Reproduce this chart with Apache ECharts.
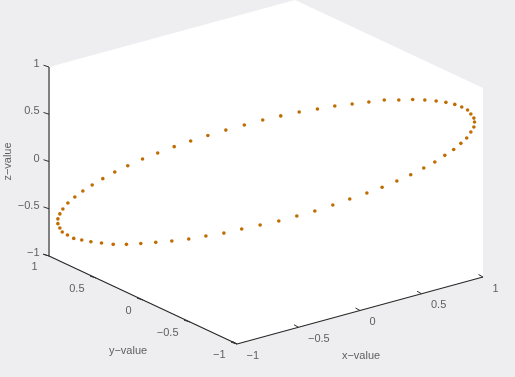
<!DOCTYPE html>
<html>
<head>
<meta charset="utf-8">
<title>3D scatter</title>
<script src="https://cdn.jsdelivr.net/npm/echarts@6/dist/echarts.min.js"></script>
<style>
  html, body { margin: 0; padding: 0; background: #eeedef; }
  #chart { width: 515px; height: 377px; }
</style>
</head>
<body>
<div id="chart"></div>
<script>
// values
var xValues = [0.961,0.958,0.944,0.929,0.902,0.870,0.829,0.784,0.732,0.676,0.612,0.545,0.474,0.397,0.317,0.237,0.153,0.068,-0.015,-0.100,-0.185,-0.268,-0.347,-0.423,-0.499,-0.569,-0.637,-0.697,-0.752,-0.801,-0.844,-0.881,-0.913,-0.936,-0.950,-0.959,-0.959,-0.950,-0.939,-0.915,-0.886,-0.849,-0.807,-0.758,-0.704,-0.643,-0.577,-0.508,-0.434,-0.356,-0.277,-0.194,-0.112,-0.027,0.059,0.142,0.225,0.308,0.386,0.465,0.535,0.603,0.667,0.727,0.778,0.824,0.865,0.898,0.925,0.944,0.958];
var yValues = [-0.961,-0.958,-0.944,-0.929,-0.902,-0.870,-0.829,-0.784,-0.732,-0.676,-0.612,-0.545,-0.474,-0.397,-0.317,-0.237,-0.153,-0.068,0.015,0.100,0.185,0.268,0.347,0.423,0.499,0.569,0.637,0.697,0.752,0.801,0.844,0.881,0.913,0.936,0.950,0.959,0.959,0.950,0.939,0.915,0.886,0.849,0.807,0.758,0.704,0.643,0.577,0.508,0.434,0.356,0.277,0.194,0.112,0.027,-0.059,-0.142,-0.225,-0.308,-0.386,-0.465,-0.535,-0.603,-0.667,-0.727,-0.778,-0.824,-0.865,-0.898,-0.925,-0.944,-0.958];
var zValues = [0.636,0.677,0.719,0.759,0.788,0.812,0.829,0.838,0.843,0.843,0.830,0.822,0.794,0.764,0.733,0.693,0.652,0.601,0.548,0.486,0.423,0.357,0.289,0.221,0.146,0.075,-0.004,-0.077,-0.154,-0.227,-0.295,-0.363,-0.429,-0.496,-0.549,-0.603,-0.653,-0.698,-0.739,-0.769,-0.801,-0.814,-0.828,-0.835,-0.844,-0.837,-0.820,-0.801,-0.778,-0.749,-0.708,-0.668,-0.615,-0.564,-0.512,-0.450,-0.388,-0.315,-0.243,-0.170,-0.102,-0.028,0.045,0.123,0.192,0.268,0.335,0.403,0.463,0.528,0.582];
var tickValues = [-1, -0.5, 0, 0.5, 1];
var tickLabels = ['\u22121', '\u22120.5', '0', '0.5', '1'];

var textColor = '#3a3a3a';
var font = '"Liberation Sans", Arial, sans-serif';

// orthographic view of the unit box, in screen pixels per data unit
var view = {
  cx: 266, cy: 172,
  xu: 123, xv: -33.5,
  yu: -94, yv: -44,
  zv: -94.5
};
function project(x, y, z) {
  return [
    view.cx + view.xu * x + view.yu * y,
    view.cy + view.xv * x + view.yv * y + view.zv * z
  ];
}

var points = [];
for (var i = 0; i < xValues.length; i++) {
  points.push(project(xValues[i], yValues[i], zValues[i]));
}

// visible outline of the box, filled white
var boxOutline = [
  project(-1, 1, 1), project(1, 1, 1), project(1, -1, 1),
  project(1, -1, -1), project(-1, -1, -1), project(-1, 1, -1)
];

function segment(a, b, color, width) {
  return {
    type: 'line',
    data: [a, b],
    showSymbol: false,
    silent: true,
    animation: false,
    lineStyle: { color: color, width: width }
  };
}
function moved(p, du, dv) {
  return [p[0] + du, p[1] + dv];
}
function tickText(data, align, du, dv) {
  return {
    type: 'scatter',
    data: data,
    symbolSize: 0,
    silent: true,
    animation: false,
    label: {
      show: true,
      position: 'inside',
      offset: [du, dv],
      align: align,
      verticalAlign: 'middle',
      fontFamily: font,
      fontSize: 11,
      color: textColor,
      formatter: function (p) { return tickLabels[p.dataIndex]; }
    }
  };
}
function axisName(text, p, rotate) {
  return {
    type: 'scatter',
    data: [p],
    symbolSize: 0,
    silent: true,
    animation: false,
    label: {
      show: true,
      position: 'inside',
      rotate: rotate,
      align: 'center',
      verticalAlign: 'middle',
      fontFamily: font,
      fontSize: 11,
      color: textColor,
      formatter: text
    }
  };
}

var series = [
  {
    type: 'custom',
    silent: true,
    animation: false,
    data: [0],
    renderItem: function (params, api) {
      return {
        type: 'polygon',
        shape: { points: boxOutline.map(function (p) { return api.coord(p); }) },
        style: { fill: '#ffffff' }
      };
    }
  },
  segment(project(-1, 1, -1), project(-1, 1, 1), '#808080', 2),
  segment(project(-1, 1, -1), project(-1, -1, -1), '#282828', 1.2),
  segment(project(-1, -1, -1), project(1, -1, -1), '#282828', 1.2)
];

var xTickPoints = [], yTickPoints = [], zTickPoints = [];
tickValues.forEach(function (t) {
  var px = project(t, -1, -1), py = project(-1, t, -1), pz = project(-1, 1, t);
  xTickPoints.push(px);
  yTickPoints.push(py);
  zTickPoints.push(pz);
  series.push(segment(px, moved(px, -4.5, -2.5), '#303030', 1));
  series.push(segment(py, moved(py, -6, -1.8), '#303030', 1));
  series.push(segment(pz, moved(pz, -5.5, -1.8), '#303030', 1));
});

series.push(tickText(xTickPoints, 'left', 9.5, 11.5));
series.push(tickText(yTickPoints, 'right', -11.5, 10.5));
series.push(tickText(zTickPoints, 'right', -9.5, -3));

series.push(axisName('x\u2212value', moved(project(0, -1, -1), 1, 45.5), 0));
series.push(axisName('y\u2212value', moved(project(-1, 0, -1), -15, 51), 0));
series.push(axisName('z\u2212value', moved(project(-1, 1, 0), -41.5, 0), 90));

series.push({
  type: 'scatter',
  data: points,
  symbol: 'circle',
  symbolSize: 3.6,
  silent: true,
  animation: false,
  itemStyle: { color: '#bf6c00', opacity: 1 }
});

var chart = echarts.init(document.getElementById('chart'), null, { renderer: 'canvas' });
chart.setOption({
  backgroundColor: '#eeedef',
  animation: false,
  grid: { left: 0, right: 0, top: 0, bottom: 0 },
  xAxis: { type: 'value', min: 0, max: 515, show: false },
  yAxis: { type: 'value', min: 0, max: 377, inverse: true, show: false },
  series: series
});
</script>
</body>
</html>
